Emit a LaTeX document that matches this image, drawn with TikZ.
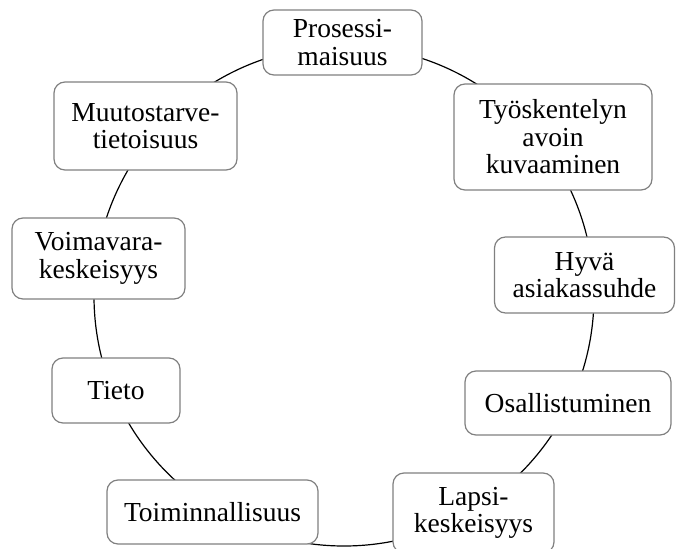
\documentclass[tikz,border=0pt]{standalone}
\usepackage{fontspec}
\setmainfont{Liberation Serif}
\tikzset{theme box/.style={draw=gray, line width=1.2pt, rounded corners=11pt, fill=white, align=center, inner sep=0pt, font=\fontsize{27.5}{27.5}\selectfont}}
\tikzset{theme ring/.style={draw=black, line width=1.2pt, circle, inner sep=0pt}}

\begin{document}
\begin{tikzpicture}[x=1pt,y=-1pt]
\useasboundingbox (0,0) rectangle (678,549);
\node[theme ring, minimum size=500pt] (ring) at (344,296) {};
\node[theme box, minimum width=159pt, minimum height=65pt] (prosessi) at (342.5,42.5) {Prosessi-\\maisuus};
\node[theme box, minimum width=198pt, minimum height=106pt] (avoin) at (553,137) {Työskentelyn\\avoin\\kuvaaminen};
\node[theme box, minimum width=180pt, minimum height=76pt] (asiakassuhde) at (584.5,275) {Hyvä\\asiakassuhde};
\node[theme box, minimum width=206pt, minimum height=64pt] (osallisuus) at (568,403) {Osallistuminen};
\node[theme box, minimum width=161pt, minimum height=80pt] (lapsi) at (473.5,513) {Lapsi-\\keskeisyys};
\node[theme box, minimum width=211pt, minimum height=64pt] (toiminta) at (212.5,512) {Toiminnallisuus};
\node[theme box, minimum width=128pt, minimum height=65pt] (tieto) at (116,390.5) {Tieto};
\node[theme box, minimum width=173pt, minimum height=81pt] (voimavara) at (98.5,258.5) {Voimavara-\\keskeisyys};
\node[theme box, minimum width=183pt, minimum height=88pt] (muutostarve) at (145.5,126) {Muutostarve-\\tietoisuus};
\end{tikzpicture}
\end{document}
